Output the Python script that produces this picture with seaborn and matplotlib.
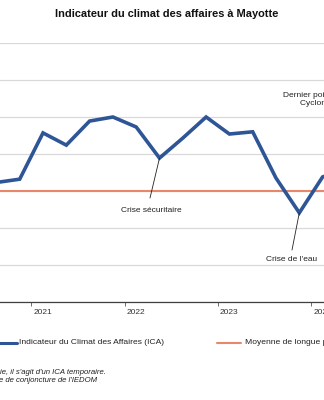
import matplotlib
matplotlib.use("Agg")
import matplotlib.pyplot as plt
import seaborn as sns
import pandas as pd
from matplotlib.lines import Line2D

# ---- data ----
trimestres = ["2020T3", "2020T4", "2021T1", "2021T2", "2021T3", "2021T4",
              "2022T1", "2022T2", "2022T3", "2022T4", "2023T1", "2023T2",
              "2023T3", "2023T4", "2024T1", "2024T2"]
ica = [102.3, 103.2, 115.7, 112.4, 118.9, 120.0,
       117.3, 108.9, 114.3, 120.0, 115.4, 116.0,
       103.5, 94.1, 103.8, 106.0]
moyenne_longue_periode = 100.0
annees = [2021, 2022, 2023, 2024]
annee_labels = ["2021", "2022", "2023", "2024"]
y_grid = [70, 80, 90, 100, 110, 120, 130, 140]

titre = "Indicateur du climat des affaires à Mayotte"
leg_ica = "Indicateur du Climat des Affaires (ICA)"
leg_moy = "Moyenne de longue période"
note1 = "* Pour le dernier point de la série, il s'agit d'un ICA temporaire."
note2 = "Source : Enquête de conjoncture de l'IEDOM"

temps = [int(t[:4]) + (int(t[-1]) - 1) / 4 for t in trimestres]
df = pd.DataFrame({"temps": temps, "ica": ica})

BLUE = "#2E5596"
ORANGE = "#E8876A"
GRID = "#D9D9D9"

sns.set_theme(style="white")
plt.rcParams["font.family"] = ["Liberation Sans", "DejaVu Sans"]

W, H = 324, 400
fig = plt.figure(figsize=(W / 100, H / 100), dpi=100)
ax_left_px, ax_right_px = -30, 354
ax = fig.add_axes([ax_left_px / W, 1 - 302 / H, (ax_right_px - ax_left_px) / W, (302 - 43) / H])

px_per_year = 93.2
x0_px = 43
ax.set_xlim(2021 + (ax_left_px - x0_px) / px_per_year, 2021 + (ax_right_px - x0_px) / px_per_year)
ax.set_ylim(70, 140)

ax.set_yticks(y_grid)
ax.yaxis.grid(True, color=GRID, lw=0.9)
ax.set_axisbelow(True)
ax.tick_params(axis="y", left=False, labelleft=False)

ax.axhline(moyenne_longue_periode, color=ORANGE, lw=1.5, zorder=2)
sns.lineplot(data=df, x="temps", y="ica", ax=ax, color=BLUE, lw=2.6, zorder=3,
             solid_joinstyle="miter", solid_capstyle="butt")

ax.set_xticks(annees)
ax.set_xticklabels(annee_labels, fontsize=6.0, color="#333333")
ax.set_xticks([a - 0.125 for a in annees], minor=True)
ax.tick_params(axis="x", which="major", length=0, pad=5)
ax.tick_params(axis="x", which="minor", length=3, width=0.6, color="#555555", direction="out", bottom=True)
ax.set_xlabel("")
ax.set_ylabel("")
for s in ["left", "right", "top"]:
    ax.spines[s].set_visible(False)
ax.spines["bottom"].set_color("#404040")
ax.spines["bottom"].set_linewidth(0.9)

# annotations
def px_to_data(xp, yp):
    return 2021 + (xp - x0_px) / px_per_year, 70 + (302 - yp) / 3.7

pt = (temps[7], ica[7])
ax.annotate("", xy=pt, xytext=px_to_data(150, 198),
            arrowprops=dict(arrowstyle="-", color="#222222", lw=0.6, shrinkA=0, shrinkB=0))
ax.text(*px_to_data(151, 211), "Crise sécuritaire", ha="center", va="center", fontsize=6.0, color="#222222")

pt = (temps[13], ica[13])
ax.annotate("", xy=pt, xytext=px_to_data(292, 250),
            arrowprops=dict(arrowstyle="-", color="#222222", lw=0.6, shrinkA=0, shrinkB=0))
ax.text(*px_to_data(292, 259), "Crise de l'eau", ha="center", va="center", fontsize=6.0, color="#222222")

ax.text(*px_to_data(283, 95), "Dernier point", ha="left", va="center", fontsize=6.0, color="#222222")
ax.text(*px_to_data(300, 103), "Cyclone Chido", ha="left", va="center", fontsize=6.0, color="#222222")

# title
fig.text(166.5 / W, 1 - 14 / H, titre, ha="center", va="center", fontsize=7.9, fontweight="bold", color="#111111")

# legend
ly = 1 - 343 / H
fig.add_artist(Line2D([-7 / W, 17 / W], [ly, ly], transform=fig.transFigure, color=BLUE, lw=2.2))
fig.text(19 / W, ly, leg_ica, ha="left", va="center", fontsize=6.1, color="#222222")
fig.add_artist(Line2D([217 / W, 241 / W], [ly, ly], transform=fig.transFigure, color=ORANGE, lw=1.5))
fig.text(245 / W, ly, leg_moy, ha="left", va="center", fontsize=6.1, color="#222222")

# notes
fig.text(106 / W, 1 - 372 / H, note1, ha="right", va="center", fontsize=5.6, style="italic", color="#222222")
fig.text(97 / W, 1 - 381 / H, note2, ha="right", va="center", fontsize=5.6, style="italic", color="#222222")

fig.savefig("out.png", dpi=100)
